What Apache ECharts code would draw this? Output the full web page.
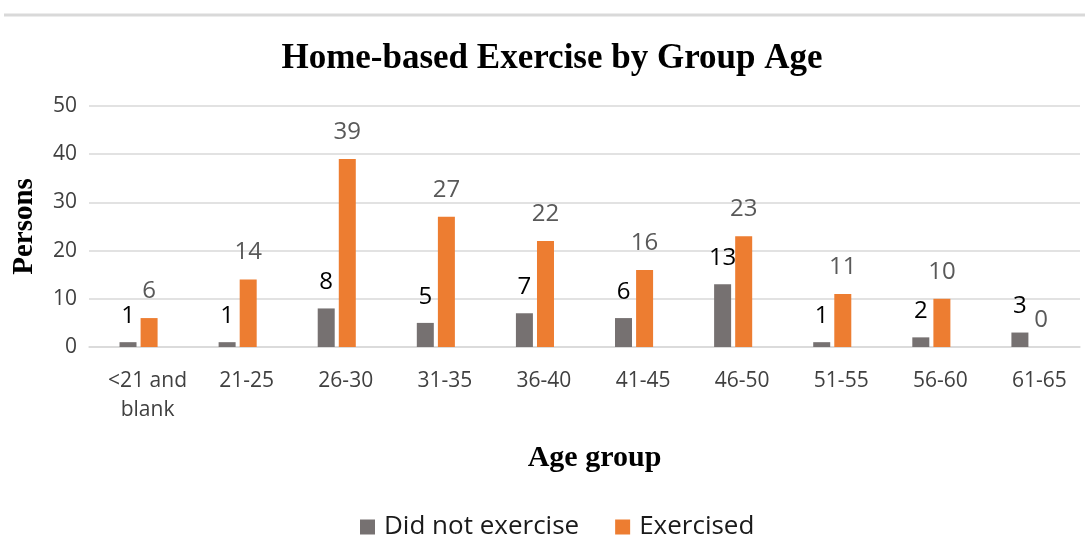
<!DOCTYPE html>
<html>
<head>
<meta charset="utf-8">
<script src="https://cdn.jsdelivr.net/npm/echarts@6/dist/echarts.min.js"></script>
<style>
  html, body { margin: 0; padding: 0; background: #fff; }
  #chart { width: 1085px; height: 558px; }
</style>
</head>
<body>
<div id="chart"></div>
<script>
const ageGroups = ["<21 and\nblank", "21-25", "26-30", "31-35", "36-40", "41-45", "46-50", "51-55", "56-60", "61-65"];
const didNotExercise = [1, 1, 8, 5, 7, 6, 13, 1, 2, 3];
const exercised = [6, 14, 39, 27, 22, 16, 23, 11, 10, 0];
const yTicks = { min: 0, max: 50, interval: 10 };

const sans = "'Open Sans', sans-serif";
const serif = "'Liberation Serif', 'Times New Roman', serif";

const chart = echarts.init(document.getElementById("chart"));

const option = {
  backgroundColor: "#fff",
  animation: false,
  graphic: [
    {
      type: "line",
      shape: { x1: 4, y1: 15, x2: 1085, y2: 15 },
      style: { stroke: "#d9d9d9", lineWidth: 3 },
    },
  ],
  title: {
    text: "Home-based Exercise by Group Age",
    left: 547,
    top: 36,
    textAlign: "center",
    textStyle: { fontFamily: serif, fontWeight: "bold", fontSize: 35, color: "#000" },
  },
  legend: {
    left: 355,
    top: 509,
    itemWidth: 15,
    itemHeight: 15,
    itemGap: 36,
    icon: "rect",
    textStyle: { fontFamily: sans, fontSize: 26, color: "#1a1a1a", padding: [0, 0, 0, 4] },
    data: ["Did not exercise", "Exercised"],
  },
  grid: {
    left: 89,
    right: 5,
    top: 106,
    bottom: 211,
    outerBoundsMode: "none",
    containLabel: false,
  },
  xAxis: {
    type: "category",
    data: ageGroups,
    name: "Age group",
    nameLocation: "middle",
    nameGap: 96,
    nameTextStyle: { fontFamily: serif, fontWeight: "bold", fontSize: 30, color: "#000", padding: [0, 0, 0, 20] },
    axisLine: { lineStyle: { color: "#d9d9d9", width: 1.5 } },
    axisTick: { show: false },
    axisLabel: {
      fontFamily: sans,
      fontSize: 21,
      color: "#404040",
      margin: 20,
      lineHeight: 29,
      padding: [0, 0, 0, 18],
      interval: 0,
    },
  },
  yAxis: {
    type: "value",
    min: yTicks.min,
    max: yTicks.max,
    interval: yTicks.interval,
    name: "Persons",
    nameLocation: "middle",
    nameGap: 50,
    nameRotate: 90,
    nameTextStyle: { fontFamily: serif, fontWeight: "bold", fontSize: 29, color: "#000" },
    axisLine: { show: false },
    axisTick: { show: false },
    axisLabel: { fontFamily: sans, fontSize: 21, color: "#404040", margin: 12 },
    splitLine: { lineStyle: { color: "#d9d9d9", width: 1.5 } },
  },
  series: [
    {
      name: "Did not exercise",
      type: "bar",
      data: didNotExercise,
      barWidth: 17,
      barGap: "24%",
      itemStyle: { color: "#767171" },
      label: {
        show: true,
        position: "top",
        distance: 14,
        fontFamily: sans,
        fontSize: 24,
        color: "#000",
      },
    },
    {
      name: "Exercised",
      type: "bar",
      data: exercised,
      barWidth: 17,
      barGap: "24%",
      itemStyle: { color: "#ed7d31" },
      label: {
        show: true,
        position: "top",
        distance: 15,
        fontFamily: sans,
        fontSize: 24,
        color: "#595959",
      },
    },
  ],
};

chart.setOption(option);
</script>
</body>
</html>
